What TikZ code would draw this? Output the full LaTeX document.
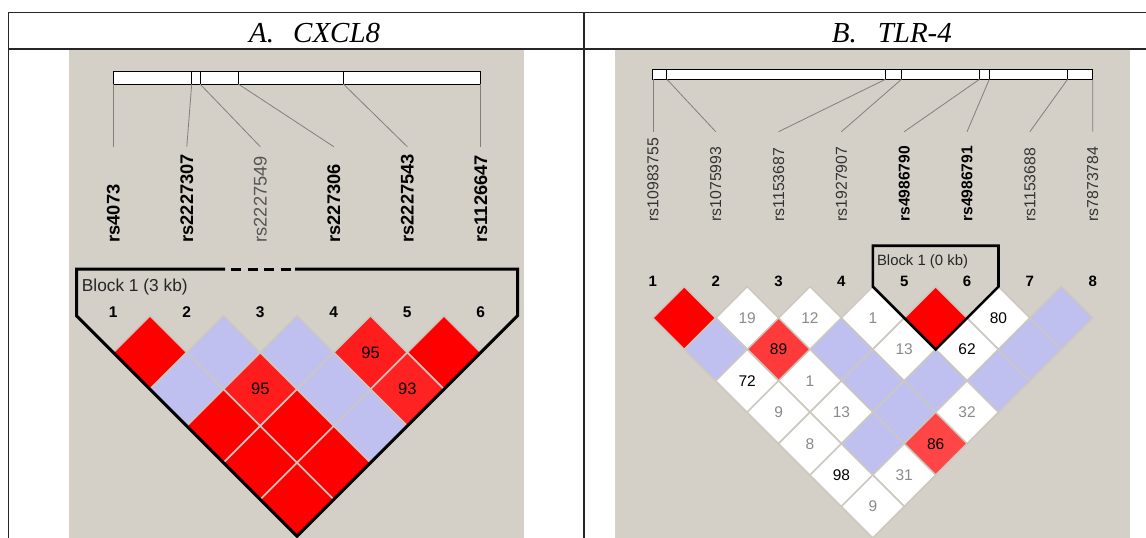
\documentclass[tikz,border=0pt]{standalone}
\usepackage{fontspec}
\setmainfont{Liberation Sans}
\newfontfamily\titlefont{Liberation Serif}
\usetikzlibrary{shapes.geometric}
\definecolor{hvbg}{HTML}{D4D0C8}
\definecolor{hvred}{HTML}{FF0000}
\definecolor{hvblue}{HTML}{C0C0F0}
\definecolor{redA}{HTML}{FF1C1C}
\definecolor{redB}{HTML}{FF2222}
\definecolor{redC}{HTML}{FF3A3A}
\definecolor{redD}{HTML}{FF4646}
\definecolor{cellline}{HTML}{CCC8C0}
\definecolor{numgray}{HTML}{8A8A8A}
\definecolor{conncol}{HTML}{808080}
\definecolor{lblgray}{HTML}{555555}
\definecolor{lbldark}{HTML}{333333}
\begin{document}
\begin{tikzpicture}[x=1pt,y=-1pt,
  tbl/.style={line width=1.4pt, draw=black!85},
  panel/.style={fill=hvbg, draw=none},
  genebar/.style={draw=black, line width=0.9pt, fill=white},
  tickline/.style={draw=black, line width=0.9pt},
  conn/.style={draw=conncol, line width=0.8pt},
  title/.style={anchor=base west, inner sep=0pt, font=\titlefont\itshape\fontsize{29}{29}\selectfont},
  snpAb/.style={rotate=90, anchor=west, inner sep=0pt, font=\fontsize{18.3}{18.3}\selectfont\bfseries},
  snpAn/.style={rotate=90, anchor=west, inner sep=0pt, text=lblgray, font=\fontsize{18.3}{18.3}\selectfont},
  snpBb/.style={rotate=90, anchor=west, inner sep=0pt, font=\fontsize{15.6}{15.6}\selectfont\bfseries},
  snpBn/.style={rotate=90, anchor=west, inner sep=0pt, text=lbldark, font=\fontsize{15.8}{15.8}\selectfont},
  numA/.style={anchor=base, inner sep=0pt, font=\fontsize{15.5}{15.5}\selectfont\bfseries},
  numB/.style={anchor=base, inner sep=0pt, font=\fontsize{15}{15}\selectfont\bfseries},
  cellA/.style={shape=diamond, aspect=1, minimum width=73.5pt, minimum height=73.5pt, inner sep=0pt, outer sep=0pt, draw=cellline, line width=1.6pt, font=\fontsize{16.5}{16.5}\selectfont},
  cellB/.style={shape=diamond, aspect=1, minimum width=62.83pt, minimum height=62.83pt, inner sep=0pt, outer sep=0pt, draw=cellline, line width=1.5pt, font=\fontsize{15.5}{15.5}\selectfont},
  blockline/.style={draw=black, line width=3pt, line join=miter},
  blocktext/.style={anchor=base west, inner sep=0pt, text=black!85},
]
\useasboundingbox (0,0) rectangle (1146,538);
% panels
\fill[panel] (68.8,50) rectangle (524.2,538);
\fill[panel] (615,50) rectangle (1129.5,538);
% table
\draw[tbl] (8.3,12.7) -- (1146,12.7);
\draw[tbl] (8.3,48.8) -- (1146,48.8);
\draw[tbl] (8.3,12) -- (8.3,538);
\draw[tbl] (584,12) -- (584,538);
\node[title] (tA) at (249,42) {A.\hspace{19pt}CXCL8};
\node[title] (tB) at (831.6,42.3) {B.\hspace{21pt}TLR-4};

% ---------- Panel A ----------
\draw[genebar] (113.3,71.7) rectangle (480.8,84);
\foreach \t in {191.7,200,238.3,343.3} \draw[tickline] (\t,71.7) -- (\t,84);
\foreach \k/\t/\lab/\sty in {1/113.3/rs4073/snpAb, 2/191.7/rs2227307/snpAb, 3/200/rs2227549/snpAn, 4/238.3/rs227306/snpAb, 5/343.3/rs2227543/snpAb, 6/480.8/rs1126647/snpAb}{
  \pgfmathsetmacro\p{113.3+(\k-1)*73.5}
  \coordinate (ta\k) at (\t,84);
  \coordinate (ea\k) at (\p,146.7);
  \draw[conn] (ta\k) -- (ea\k);
  \node[\sty] (la\k) at (\p,242.7) {\lab};
  \node[numA] (na\k) at (\p,317) {\k};
}
\foreach \i/\j/\c/\t in {1/2/hvred/{}, 2/3/hvblue/{}, 3/4/hvblue/{}, 4/5/redA/95, 5/6/hvred/{},
  1/3/hvblue/{}, 2/4/redA/95, 3/5/hvblue/{}, 4/6/redB/93,
  1/4/hvred/{}, 2/5/hvred/{}, 3/6/hvblue/{},
  1/5/hvred/{}, 2/6/hvred/{},
  1/6/hvred/{}}{
  \pgfmathsetmacro\cx{113.3+(\i+\j-2)*36.75}
  \pgfmathsetmacro\cy{352.5+(\j-\i-1)*36.75}
  \node[cellA, fill=\c] (ca\i\j) at (\cx,\cy) {\raisebox{-2pt}{\t}};
}
\draw[blockline] (225,269) -- (76.55,269) -- (76.55,315.75) -- (297.05,536.25) -- (517.55,315.75) -- (517.55,269) -- (295,269);
\draw[blockline, dash pattern=on 10pt off 6.5pt, dash phase=10.5pt] (225,269) -- (295,269);
\node[blocktext, font=\fontsize{17.3}{17.3}\selectfont] (bkA) at (81.7,291.7) {Block 1 (3 kb)};

% ---------- Panel B ----------
\draw[genebar] (652.9,69) rectangle (1092.7,79.3);
\foreach \t in {666.9,885.5,901.5,979.5,989.3,1067.6} \draw[tickline] (\t,69) -- (\t,79.3);
\foreach \k/\t/\lab/\sty in {1/652.9/rs10983755/snpBn, 2/666.9/rs1075993/snpBn, 3/885.5/rs1153687/snpBn, 4/901.5/rs1927907/snpBn, 5/979.5/rs4986790/snpBb, 6/989.3/rs4986791/snpBb, 7/1067.6/rs1153688/snpBn, 8/1092.7/rs7873784/snpBn}{
  \pgfmathsetmacro\p{652.9+(\k-1)*62.83}
  \coordinate (tb\k) at (\t,79.3);
  \coordinate (eb\k) at (\p,131.7);
  \draw[conn] (tb\k) -- (eb\k);
  \node[\sty] (lb\k) at (\p,221.7) {\lab};
  \node[numB] (nb\k) at (\p,286.7) {\k};
}
\foreach \i/\j/\c/\t/\tc in {1/2/hvred/{}/black, 2/3/white/19/numgray, 3/4/white/12/numgray, 4/5/white/1/numgray, 5/6/hvred/{}/black, 6/7/white/80/black, 7/8/hvblue/{}/black,
  1/3/hvblue/{}/black, 2/4/redC/89/black, 3/5/hvblue/{}/black, 4/6/white/13/numgray, 5/7/white/62/black, 6/8/hvblue/{}/black,
  1/4/white/72/black, 2/5/white/1/numgray, 3/6/hvblue/{}/black, 4/7/hvblue/{}/black, 5/8/hvblue/{}/black,
  1/5/white/9/numgray, 2/6/white/13/numgray, 3/7/hvblue/{}/black, 4/8/white/32/numgray,
  1/6/white/8/numgray, 2/7/hvblue/{}/black, 3/8/redD/86/black,
  1/7/white/98/black, 2/8/white/31/numgray,
  1/8/white/9/numgray}{
  \pgfmathsetmacro\cx{652.9+(\i+\j-2)*31.415}
  \pgfmathsetmacro\cy{318+(\j-\i-1)*31.415}
  \node[cellB, fill=\c, text=\tc] (cb\i\j) at (\cx,\cy) {\raisebox{-1.5pt}{\t}};
}
\draw[blockline, line width=2.6pt] (872.8,286.6) -- (872.8,245.7) -- (998.5,245.7) -- (998.5,286.6) -- (935.65,349.45) -- cycle;
\node[blocktext, font=\fontsize{14.9}{14.9}\selectfont] (bkB) at (876.8,265.7) {Block 1 (0 kb)};
\end{tikzpicture}
\end{document}
